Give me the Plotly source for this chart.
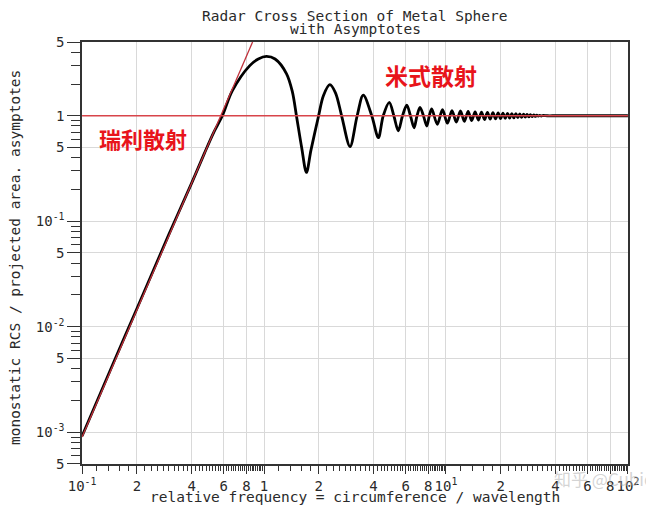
"""
Radar Cross Section of Metal Sphere - Mie curve with asymptotes
"""

import plotly.graph_objects as go

# ---- data ----
# black Mie curve (relative frequency ka, normalised RCS)
mie_x = [0.1, 0.15, 0.2, 0.3, 0.4, 0.47, 0.53, 0.59, 0.67, 0.835, 0.93, 1.03, 1.15, 1.33,
         1.43, 1.51, 1.61, 1.71, 1.81, 1.99, 2.12, 2.30, 2.47, 2.67, 2.97, 3.25, 3.51,
         3.91, 4.25, 4.52, 4.88, 5.17, 5.47, 5.77, 6.09, 6.38, 6.68, 6.93, 7.20, 7.52,
         7.84, 8.10, 8.35, 8.96, 9.57, 10.18, 10.79, 11.40, 12.01, 12.62, 13.24, 13.85,
         14.46, 15.07, 15.68, 16.29, 16.90, 17.51, 18.12, 18.73, 19.35, 19.96, 20.57,
         21.18, 21.79, 22.40, 23.01, 23.62, 24.23, 24.84, 25.46, 26.07, 26.68, 27.29,
         27.90, 28.51, 29.12, 29.73, 30.34, 30.95, 31.57, 32.18, 32.79, 33.40, 34.0,
         36.0, 40.0, 50.0, 70.0, 100.0]
mie_y = [0.00092, 0.0047, 0.0148, 0.075, 0.23, 0.44, 0.70, 1.0, 1.73, 2.99, 3.45, 3.65,
         3.45, 2.5, 1.7, 0.98, 0.5, 0.29, 0.47, 0.98, 1.55, 1.97, 1.65, 1.0, 0.51, 1.0,
         1.57, 1.0, 0.62, 1.0, 1.34, 1.0, 0.72, 1.0, 1.26, 1.0, 0.77, 1.0, 1.20, 1.0,
         0.80, 1.0, 1.16, 0.83, 1.14, 0.85, 1.12, 0.87, 1.11, 0.885, 1.10, 0.90, 1.09,
         0.91, 1.08, 0.92, 1.075, 0.93, 1.07, 0.935, 1.065, 0.94, 1.06, 0.945, 1.055,
         0.95, 1.05, 0.955, 1.045, 0.96, 1.04, 0.965, 1.035, 0.97, 1.03, 0.975, 1.025,
         0.98, 1.02, 0.985, 1.015, 0.99, 1.01, 0.995, 1.005, 1.0, 1.0, 1.0, 1.0, 1.0]

# Rayleigh asymptote (straight on log-log) and optical asymptote
rayleigh_x = [0.1, 0.865]
rayleigh_y = [0.0009, 5.0]
optical_x = [0.1, 100.0]
optical_y = [1.0, 1.0]

# tick labels
x_ticks = [0.1, 0.2, 0.4, 0.6, 0.8, 1, 2, 4, 6, 8, 10, 20, 40, 60, 80, 100]
x_labels = ["10<sup>-1</sup>", "2", "4", "6", "8", "1", "2", "4", "6", "8",
            "10<sup>1</sup>", "2", "4", "6", "8", "10<sup>2</sup>"]
y_ticks = [5, 1, 0.5, 0.1, 0.05, 0.01, 0.005, 0.001, 0.0005]
y_labels = ["5", "1", "5", "10<sup>-1</sup>", "5", "10<sup>-2</sup>", "5",
            "10<sup>-3</sup>", "5"]

# minor tick positions
x_minor = []
for dec in [0.1, 1, 10]:
    for k in range(1, 46):
        v = round(dec * (1 + 0.2 * k), 6)
        if v not in x_ticks:
            x_minor.append(v)
y_minor = []
for dec in [0.0001, 0.001, 0.01, 0.1, 1]:
    for m in [2, 3, 4, 6, 7, 8, 9]:
        v = dec * m
        if 0.0005 < v < 5:
            y_minor.append(v)

FONT = "DejaVu Sans Mono"
TXT = "#2a2a2a"

fig = go.Figure()

fig.add_trace(go.Scatter(
    x=mie_x, y=mie_y, mode="lines",
    line=dict(color="black", width=2.8, shape="spline", smoothing=0.9),
    hoverinfo="skip"
))
fig.add_trace(go.Scatter(
    x=rayleigh_x, y=rayleigh_y, mode="lines",
    line=dict(color="#c0303a", width=1.3), hoverinfo="skip"
))
fig.add_trace(go.Scatter(
    x=optical_x, y=optical_y, mode="lines",
    line=dict(color="#d8444a", width=1.4), hoverinfo="skip"
))

axis_common = dict(
    showline=True, linecolor="#333", linewidth=1.5, mirror=True,
    ticks="outside", tickcolor="#333", tickwidth=1,
    showgrid=True, gridcolor="#d9d9d9", gridwidth=1,
    zeroline=False, tickmode="array", automargin=False, tickangle=0,
    tickfont=dict(family=FONT, size=14, color=TXT),
)

fig.update_xaxes(
    type="log", range=[-1.0005, 2.0005],
    tickvals=x_ticks, ticktext=x_labels, ticklen=8,
    minor=dict(tickmode="array", tickvals=x_minor, ticks="outside",
               ticklen=5, tickcolor="#333", showgrid=False),
    **axis_common
)
fig.update_yaxes(
    type="log", range=[-3.3015, 0.6993],
    tickvals=y_ticks, ticktext=y_labels, ticklen=13,
    minor=dict(tickmode="array", tickvals=y_minor, ticks="outside",
               ticklen=9, tickcolor="#333", showgrid=False),
    **axis_common
)

ann = [
    dict(text="Radar Cross Section of Metal Sphere", x=0.5, y=1.062,
         font=dict(family=FONT, size=14.5, color=TXT)),
    dict(text="with Asymptotes", x=0.5, y=1.031,
         font=dict(family=FONT, size=14.5, color=TXT)),
    dict(text="relative frequency = circumference / wavelength", x=0.5, y=-0.078,
         font=dict(family=FONT, size=14.5, color=TXT)),
    dict(text="monostatic RCS / projected area. asymptotes", x=-0.123, y=0.49,
         textangle=-90, font=dict(family=FONT, size=14.5, color=TXT)),
    dict(text="<b>瑞利散射</b>", x=0.112, y=0.772,
         font=dict(family="Noto Sans CJK SC", size=22, color="#e8141b")),
    dict(text="<b>米式散射</b>", x=0.639, y=0.922,
         font=dict(family="Noto Sans CJK SC", size=23, color="#e8141b")),
    dict(text="知乎 @Cubic", x=0.86, y=-0.035, xanchor="left",
         font=dict(family="Noto Sans CJK SC", size=17, color="rgba(170,170,170,0.5)")),
]
for a in ann:
    a.setdefault("xanchor", "center")
    fig.add_annotation(xref="paper", yref="paper", showarrow=False,
                       yanchor="middle", **a)

# page body has an 8px margin, so the figure is sized to fit the window
fig.update_layout(
    width=646, height=500,
    margin=dict(l=74, r=26, t=34, b=44),
    paper_bgcolor="white", plot_bgcolor="white",
    showlegend=False,
)

fig.write_html("out.html")
